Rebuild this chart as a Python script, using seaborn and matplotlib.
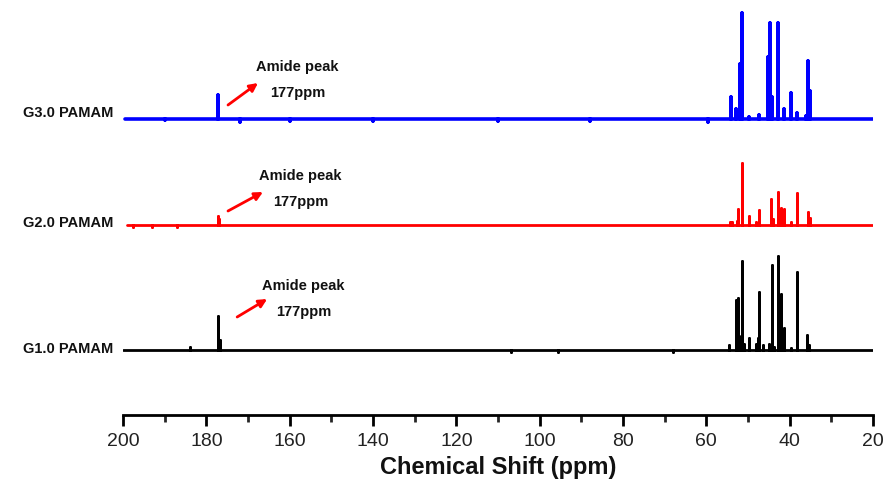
import numpy as np
import pandas as pd
import matplotlib
matplotlib.use("Agg")
import matplotlib.pyplot as plt
from matplotlib.ticker import MultipleLocator
import seaborn as sns

# ---------------- data (ppm, relative intensity) ----------------
g3_ppm = [190.0, 177.2, 172.0, 160.0, 140.0, 110.0, 88.0, 59.6,
          54.1, 53.0, 52.0, 51.5, 49.8, 47.3, 45.3, 44.7, 44.2, 42.7,
          41.3, 39.6, 38.3, 36.1, 35.7, 35.1]
g3_int = [-1, 24, -3, -1.5, -1.5, -1.5, -1.5, -3,
          22, 10, 55, 106, 2, 4, 62, 96, 22, 96,
          10, 26, 6, 3, 58, 28]

g2_ppm = [197.6, 193.0, 187.0, 177.2, 177.0, 54.3, 53.8, 52.7, 52.3,
          51.5, 49.8, 48.0, 47.3, 44.4, 43.9, 42.7, 42.2, 41.3, 39.6,
          38.3, 35.7, 35.2]
g2_int = [-2, -2, -2, 9, 6, 3, 3, 4, 16,
          62, 9, 3, 15, 26, 6, 33, 17, 16, 3,
          32, 13, 7]

g1_ppm = [184.0, 177.2, 176.8, 107.0, 95.6, 68.0, 54.5, 53.0, 52.5,
          52.1, 51.5, 50.9, 49.8, 48.2, 47.7, 47.3, 46.3, 44.9, 44.3,
          43.8, 42.7, 42.2, 41.3, 39.6, 38.3, 35.8, 35.3]
g1_int = [3, 34, 10, -2, -2, -2, 5, 50, 52,
          14, 89, 6, 12, 6, 12, 58, 5, 6, 85,
          3, 94, 56, 22, 2, 78, 15, 5]

samples = ["G3.0 PAMAM", "G2.0 PAMAM", "G1.0 PAMAM"]
colors = ["#0000FF", "#FF0000", "#000000"]
x_ticks = [200, 180, 160, 140, 120, 100, 80, 60, 40, 20]

# ---------------- figure ----------------
sns.set_style("white")
plt.rcParams["font.family"] = ["Liberation Sans", "DejaVu Sans"]

fig = plt.figure(figsize=(8.85, 4.79), dpi=100)
ax = fig.add_axes([123 / 885, 64 / 479, 750 / 885, 415 / 479])

def stick_frame(ppm, inten, start, offset):
    order = np.argsort(ppm)[::-1]
    xs, ys = [start], [offset]
    for i in order:
        p, h = ppm[i], inten[i]
        xs += [p, p, p]
        ys += [offset, offset + h, offset]
    xs.append(20.0)
    ys.append(offset)
    return pd.DataFrame({"ppm": xs, "intensity": ys})

series = [
    (g3_ppm, g3_int, 199.5, 296, 2.6),
    (g2_ppm, g2_int, 199.0, 190, 2.0),
    (g1_ppm, g1_int, 200.0, 65, 2.0),
]
for (ppm, inten, start, off, lw), col in zip(series, colors):
    df = stick_frame(ppm, inten, start, off)
    sns.lineplot(data=df, x="ppm", y="intensity", sort=False, estimator=None,
                 color=col, lw=lw, ax=ax, legend=False)

# series labels
label_y = [302, 192, 66]
for name, y in zip(samples, label_y):
    ax.text(202.4, y, name, ha="right", va="center", fontsize=10.5,
            fontweight="bold", color="#111111", clip_on=False)

# amide annotations
annos = [
    dict(t1=(168.1, 348), t2=(164.7, 322), tail=(174.8, 310), head=(167.6, 332)),
    dict(t1=(167.4, 239), t2=(164.0, 213), tail=(174.8, 204), head=(166.4, 223)),
    dict(t1=(166.6, 129), t2=(163.3, 103), tail=(172.6, 98), head=(165.4, 116)),
]
for a in annos:
    ax.text(*a["t1"], "Amide peak", ha="left", va="center", fontsize=10.5,
            fontweight="bold", color="#111111")
    ax.text(*a["t2"], "177ppm", ha="left", va="center", fontsize=10.5,
            fontweight="bold", color="#111111")
    ax.annotate("", xy=a["head"], xytext=a["tail"],
                arrowprops=dict(arrowstyle="-|>", color="red", lw=2,
                                mutation_scale=12, shrinkA=0, shrinkB=0))

# axes styling
ax.set_xlim(200, 20)
ax.set_ylim(0, 415)
ax.set_xticks(x_ticks)
ax.set_xticklabels([str(v) for v in x_ticks])
ax.xaxis.set_minor_locator(MultipleLocator(10))
ax.set_yticks([])
ax.set_ylabel("")
for s in ["left", "right", "top"]:
    ax.spines[s].set_visible(False)
ax.spines["bottom"].set_linewidth(2)
ax.spines["bottom"].set_color("black")
ax.tick_params(axis="x", which="major", direction="out", length=8, width=2,
               labelsize=14, pad=5, bottom=True, colors="black")
ax.tick_params(axis="x", which="minor", direction="out", length=5, width=2,
               bottom=True)
for lab in ax.get_xticklabels():
    lab.set_color("#222222")
ax.set_xlabel("Chemical Shift (ppm)", fontsize=17, fontweight="bold",
              labelpad=4, color="#111111")

fig.savefig("out.png", dpi=100)
